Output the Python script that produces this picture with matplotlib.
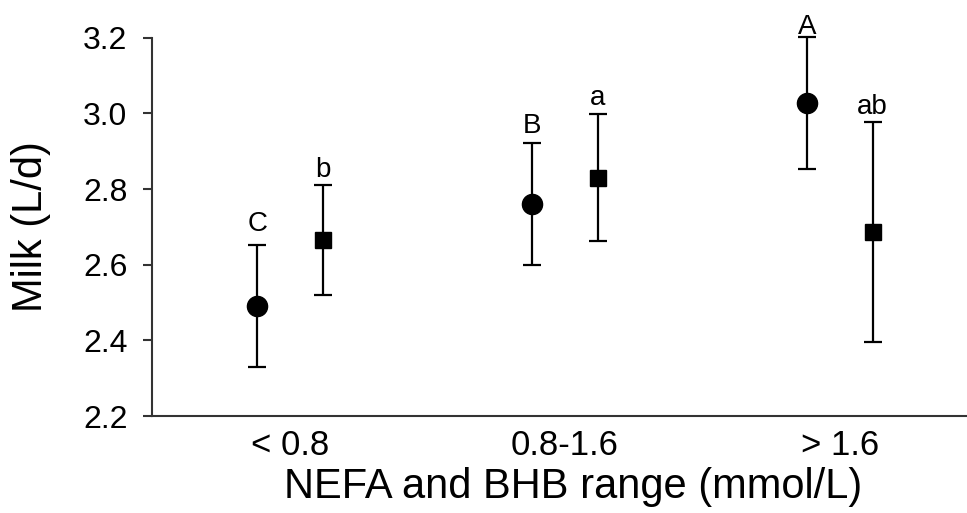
import matplotlib
matplotlib.use("Agg")
import matplotlib.pyplot as plt
import numpy as np

plt.rcParams['font.family'] = ['Liberation Sans', 'DejaVu Sans']

categories = ["< 0.8", "0.8-1.6", "> 1.6"]
nefa_mean = [2.49, 2.76, 3.027]
nefa_err = [0.161, 0.162, 0.175]
nefa_letters = ["C", "B", "A"]
bhb_mean = [2.665, 2.830, 2.686]
bhb_err = [0.145, 0.168, 0.290]
bhb_letters = ["b", "a", "ab"]

# vertical gap (in pixels) between error cap and letter baseline
nefa_gap_px = [14, 10, 3]
bhb_gap_px = [8, 9, 8]

fig = plt.figure(figsize=(9.67, 5.13), dpi=100)
ax = fig.add_axes([0.157, 0.189, 0.843, 0.7375])

x = np.arange(len(categories))
off = 0.119
ax.errorbar(x - off, nefa_mean, yerr=nefa_err, fmt='o', color='black',
            markersize=14.5, capsize=6.5, elinewidth=1.6, capthick=1.6,
            clip_on=False, zorder=2)
ax.errorbar(x + off, bhb_mean, yerr=bhb_err, fmt='s', color='black',
            markersize=11.5, capsize=6.5, elinewidth=1.6, capthick=1.6,
            clip_on=False, zorder=2)

ax.set_ylim(2.2, 3.2)
ax.set_xlim(-0.502, 2.462)

axes_h_px = 0.7375 * 513
px_to_data = 1.0 / axes_h_px

for xi, m, e, t, g in zip(x - off, nefa_mean, nefa_err, nefa_letters, nefa_gap_px):
    ax.text(xi, m + e + g * px_to_data, t, ha='center', va='baseline', fontsize=20,
            clip_on=False, zorder=5)
for xi, m, e, t, g in zip(x + off, bhb_mean, bhb_err, bhb_letters, bhb_gap_px):
    ax.text(xi, m + e + g * px_to_data, t, ha='center', va='baseline', fontsize=20,
            clip_on=False, zorder=5)

ax.set_yticks([2.2, 2.4, 2.6, 2.8, 3.0, 3.2])
ax.set_yticklabels(["2.2", "2.4", "2.6", "2.8", "3.0", "3.2"])
ax.set_xticks(x)
ax.set_xticklabels(categories)

for s in ['top', 'right']:
    ax.spines[s].set_visible(False)
for s in ['left', 'bottom']:
    ax.spines[s].set_color('#333333')
    ax.spines[s].set_linewidth(1.5)

ax.tick_params(axis='y', direction='out', length=6.5, width=1.5, color='#333333',
               labelsize=23, pad=11)
ax.tick_params(axis='x', length=0, labelsize=25, pad=9)

ax.set_ylabel("Milk (L/d)", fontsize=30, labelpad=23)
ax.set_xlabel("NEFA and BHB range (mmol/L)", fontsize=30, labelpad=2)
ax.xaxis.set_label_coords(0.5166, -0.135, transform=ax.transAxes)
ax.xaxis.label.set_va('top')

fig.savefig("out.png", dpi=100)
